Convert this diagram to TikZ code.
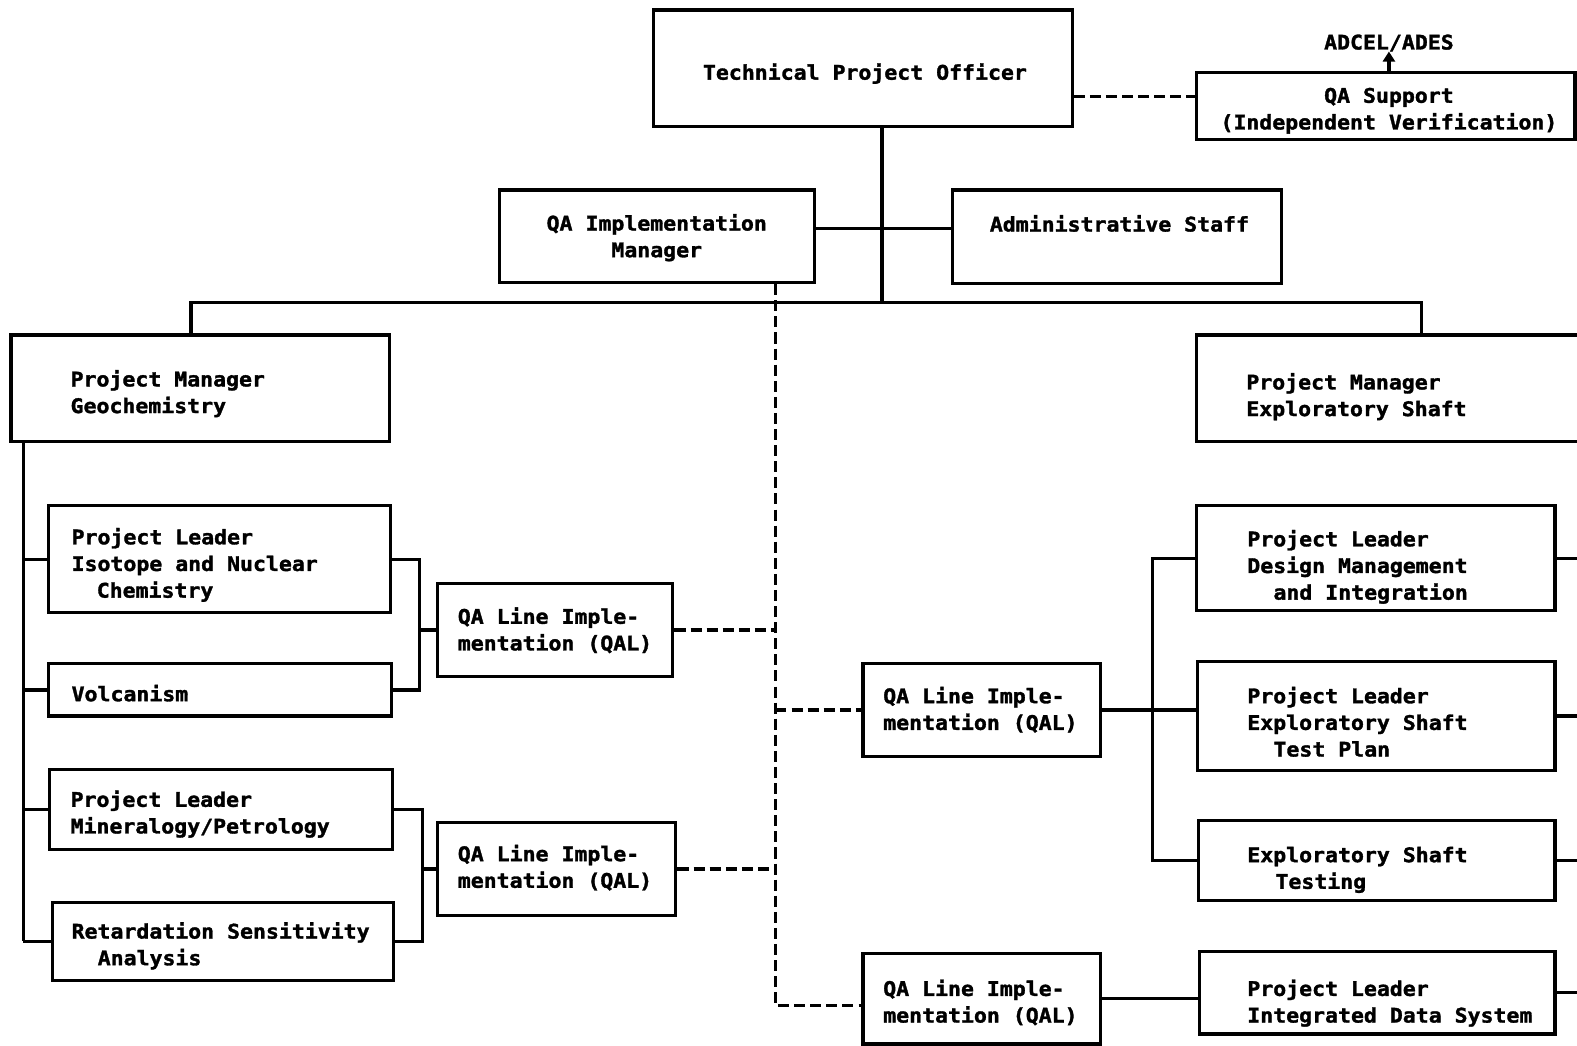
\documentclass[tikz,border=0pt]{standalone}
\usepackage{fontspec}
\usetikzlibrary{arrows.meta}
\newfontfamily\dmono[FakeStretch=1.07, BoldFeatures={FakeBold=1.6}]{DejaVu Sans Mono}
\newcommand\T{\rule{0pt}{18pt}}
\tikzset{
  box/.style={draw, line width=3.2pt, inner sep=0, rectangle},
  txt/.style={font=\dmono\bfseries\fontsize{20}{26.5}\selectfont, inner sep=0, align=left, anchor=north west},
  conn/.style={line width=3.2pt},
  dconn/.style={line width=3.2pt, dash pattern=on 11pt off 5pt},
}
\newcommand\tx[4]{\node[txt] (#1) at (#2,#3-18) {\T #4};}
\begin{document}
\begin{tikzpicture}[x=1pt,y=-1pt]
\fill[white] (0,0) rectangle (1568,1040);
\useasboundingbox (0,0) rectangle (1568,1040);

% boxes
\node[box, minimum width=416, minimum height=116] (tpo) at (858,68) {};
\node[box, minimum width=376, minimum height=67] (qas) at (1378,105.5) {};
\node[box, minimum width=313, minimum height=92] (qaim) at (653.5,235) {};
\node[box, minimum width=327, minimum height=93] (adm) at (1110.5,235.5) {};
\node[box, minimum width=376, minimum height=106] (pmg) at (199,386) {};
\node[box, minimum width=390, minimum height=106] (pme) at (1385,386) {};
\node[box, minimum width=340, minimum height=106] (iso) at (218,556) {};
\node[box, minimum width=341, minimum height=52] (vol) at (218.5,686) {};
\node[box, minimum width=341, minimum height=80] (min) at (219.5,805) {};
\node[box, minimum width=339, minimum height=78] (ret) at (221.5,936) {};
\node[box, minimum width=234, minimum height=93] (qal1) at (552,626.5) {};
\node[box, minimum width=237, minimum height=92] (qal2) at (553.5,864) {};
\node[box, minimum width=236, minimum height=92] (qalm) at (976,706) {};
\node[box, minimum width=236, minimum height=90] (qal3) at (976,993) {};
\node[box, minimum width=356, minimum height=104] (dmi) at (1368,555) {};
\node[box, minimum width=355, minimum height=108] (tp) at (1368.5,712) {};
\node[box, minimum width=354, minimum height=79] (est) at (1369,855.5) {};
\node[box, minimum width=353, minimum height=82] (ids) at (1369.5,987) {};

% texts
\node[txt, anchor=north, align=center] (tpo-t) at (860,79-18) {\T Technical Project Officer};
\node[txt, anchor=north, align=center] (adcel) at (1381,49-18) {\T ADCEL/ADES};
\node[txt, anchor=north, align=center] (qas-t) at (1381,102-18) {\T QA Support\\(Independent Verification)};
\node[txt, anchor=north, align=center] (qaim-t) at (653,229-18) {\T QA Implementation\\Manager};
\tx{adm-t}{984}{230}{Administrative Staff}
\tx{pmg-t}{70}{384}{Project Manager\\Geochemistry}
\tx{pme-t}{1239}{387}{Project Manager\\Exploratory Shaft}
\tx{iso-t}{71}{541}{Project Leader\\Isotope and Nuclear\\\hspace*{25pt}Chemistry}
\tx{vol-t}{71}{697}{Volcanism}
\tx{min-t}{70}{802}{Project Leader\\Mineralogy/Petrology}
\tx{ret-t}{71}{933}{Retardation Sensitivity\\\hspace*{26pt}Analysis}
\tx{qal1-t}{455}{620}{QA Line Imple-\\mentation (QAL)}
\tx{qal2-t}{455}{856}{QA Line Imple-\\mentation (QAL)}
\tx{qalm-t}{878}{699}{QA Line Imple-\\mentation (QAL)}
\tx{qal3-t}{878}{990}{QA Line Imple-\\mentation (QAL)}
\tx{dmi-t}{1240}{543}{Project Leader\\Design Management\\\hspace*{26pt}and Integration}
\tx{tp-t}{1240}{699}{Project Leader\\Exploratory Shaft\\\hspace*{26pt}Test Plan}
\tx{est-t}{1240}{857}{Exploratory Shaft\\\hspace*{28pt}Testing}
\tx{ids-t}{1240}{990}{Project Leader\\Integrated Data System}

% helper coordinates
\coordinate (bus) at (0,301);
\coordinate (trunk) at (877,0);
\coordinate (r1) at (0,227);
\coordinate (r0) at (0,96);
\coordinate (gx) at (190,0);
\coordinate (ex) at (1413,0);
\coordinate (dv) at (771,0);
\coordinate (q3) at (0,1000);
\coordinate (lx) at (23,0);
\coordinate (b1) at (417,0);
\coordinate (b2) at (420,0);
\coordinate (rb) at (1146,0);
\coordinate (edge) at (1575,0);

% top connectors
\draw[dconn] (tpo.east |- r0) -- (qas.west |- r0);
\draw[conn, -{Triangle[length=10pt,width=12pt]}] (qas.north -| adcel) -- (adcel.south);
\draw[conn] (trunk |- tpo.south) -- (trunk |- bus);
\draw[conn] (qaim.east |- r1) -- (adm.west |- r1);
\draw[conn] (gx |- pmg.north) -- (gx |- bus) -- (ex |- bus) -- (ex |- pme.north);

% dashed QA lines
\draw[dconn] (dv |- qaim.south) -- (dv |- q3) -- (qal3.west |- q3);
\draw[dconn] (qal1.east) -- (dv |- qal1.east);
\draw[dconn] (qal2.east) -- (dv |- qal2.east);
\draw[dconn] (dv |- qalm.west) -- (qalm.west);

% left tree
\draw[conn] (lx |- pmg.south) -- (lx |- ret.west);
\draw[conn] (lx |- iso.west) -- (iso.west);
\draw[conn] (lx |- vol.west) -- (vol.west);
\draw[conn] (lx |- min.west) -- (min.west);
\draw[conn] (lx |- ret.west) -- (ret.west);
\draw[conn] (iso.east) -- (b1 |- iso.east) -- (b1 |- vol.east) -- (vol.east);
\draw[conn] (b1 |- qal1.west) -- (qal1.west);
\draw[conn] (min.east) -- (b2 |- min.east) -- (b2 |- ret.east) -- (ret.east);
\draw[conn] (b2 |- qal2.west) -- (qal2.west);

% right tree
\draw[conn] (dmi.west) -- (rb |- dmi.west) -- (rb |- est.west) -- (est.west);
\draw[conn] (qalm.east) -- (tp.west |- qalm.east);
\draw[conn] (qal3.east) -- (ids.west |- qal3.east);
\draw[conn] (dmi.east) -- (edge |- dmi.east);
\draw[conn] (tp.east) -- (edge |- tp.east);
\draw[conn] (est.east) -- (edge |- est.east);
\draw[conn] (ids.east) -- (edge |- ids.east);
\end{tikzpicture}
\end{document}
